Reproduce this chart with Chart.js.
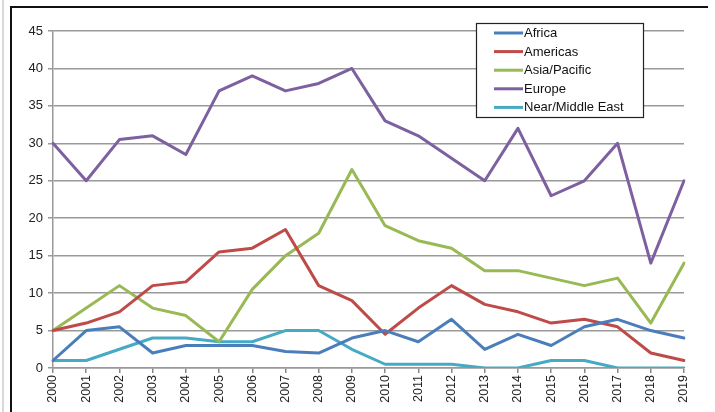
<!DOCTYPE html>
<html>
<head>
<meta charset="utf-8">
<script src="https://cdn.jsdelivr.net/npm/chart.js@4"></script>
<style>
  html, body { margin: 0; padding: 0; background: #fff; }
  #wrap { position: relative; width: 715px; height: 412px; }
  #frame { position: absolute; left: 10px; top: 6px; width: 698px; height: 420px;
           border-left: 2px solid #111; border-top: 2px solid #111; box-sizing: border-box; pointer-events: none; }
  #edge { position: absolute; left: 2px; top: 0; width: 2px; height: 412px; background: #d8d8d8; }
  canvas { position: absolute; left: 0; top: 0; }
</style>
</head>
<body>
<div id="wrap">
  <canvas id="c" width="715" height="412"></canvas>
  <div id="edge"></div>
  <div id="frame"></div>
</div>
<script>
const years = ['2000','2001','2002','2003','2004','2005','2006','2007','2008','2009','2010','2011','2012','2013','2014','2015','2016','2017','2018','2019'];
const africa = [1, 5, 5.5, 2, 3, 3, 3, 2.2, 2, 4, 5, 3.5, 6.5, 2.5, 4.5, 3, 5.5, 6.5, 5, 4];
const americas = [5, 6, 7.5, 11, 11.5, 15.5, 16, 18.5, 11, 9, 4.5, 8, 11, 8.5, 7.5, 6, 6.5, 5.5, 2, 1];
const asiaPacific = [5, 8, 11, 8, 7, 3.5, 10.5, 15, 18, 26.5, 19, 17, 16, 13, 13, 12, 11, 12, 6, 14];
const europe = [30, 25, 30.5, 31, 28.5, 37, 39, 37, 38, 40, 33, 31, 28, 25, 32, 23, 25, 30, 14, 25];
const nearMiddleEast = [1, 1, 2.5, 4, 4, 3.5, 3.5, 5, 5, 2.5, 0.5, 0.5, 0.5, 0, 0, 1, 1, 0, 0, 0];
const seriesNames = ['Africa', 'Americas', 'Asia/Pacific', 'Europe', 'Near/Middle East'];
const seriesColors = ['#4a7ebb', '#be4b48', '#98b954', '#7d60a0', '#46aac5'];
const yMin = 0, yMax = 45, yStep = 5;

const seriesData = [africa, americas, asiaPacific, europe, nearMiddleEast];
const datasets = seriesNames.map((name, i) => ({
  label: name,
  data: seriesData[i],
  borderColor: seriesColors[i],
  backgroundColor: seriesColors[i],
  borderWidth: 3,
  pointRadius: 0,
  tension: 0,
  fill: false,
  borderJoinStyle: 'round',
  borderCapStyle: 'round'
}));

const FONT = '"Liberation Sans", Arial, sans-serif';

const boxLegend = {
  id: 'boxLegend',
  afterDraw(chart) {
    const ctx = chart.ctx;
    const x0 = 476, y0 = 23, w = 167, h = 94;
    ctx.save();
    ctx.fillStyle = '#fff';
    ctx.fillRect(x0, y0, w, h);
    ctx.strokeStyle = '#222';
    ctx.lineWidth = 1.2;
    ctx.strokeRect(x0 + 0.5, y0 + 0.5, w, h);
    ctx.font = '13px ' + FONT;
    ctx.textBaseline = 'middle';
    ctx.textAlign = 'left';
    chart.data.datasets.forEach((ds, i) => {
      const y = 33 + i * 18.6;
      ctx.strokeStyle = ds.borderColor;
      ctx.lineWidth = 3;
      ctx.beginPath();
      ctx.moveTo(494, y);
      ctx.lineTo(523, y);
      ctx.stroke();
      ctx.fillStyle = '#111';
      ctx.fillText(ds.label, 524, y + 0.5);
    });
    ctx.restore();
  }
};

new Chart(document.getElementById('c'), {
  type: 'line',
  data: { labels: years, datasets },
  options: {
    responsive: false,
    animation: false,
    layout: { padding: { left: 0, right: 31, top: 31, bottom: 0 } },
    plugins: { legend: { display: false }, tooltip: { enabled: false } },
    scales: {
      x: {
        offset: false,
        grid: { display: true, drawOnChartArea: false, drawTicks: true, tickLength: 5, color: '#888', lineWidth: 1.5 },
        border: { display: true, color: '#999', width: 1.5 },
        ticks: {
          minRotation: 90, maxRotation: 90, autoSkip: false, padding: 2,
          color: '#222', font: { family: FONT, size: 12.5 }
        },
        afterFit(scale) { scale.height = 44; }
      },
      y: {
        min: yMin, max: yMax,
        grid: { color: '#999', lineWidth: 1.5, tickLength: 5 },
        border: { display: true, color: '#999', width: 1.5 },
        ticks: {
          stepSize: yStep, padding: 5,
          color: '#222', font: { family: FONT, size: 13 }
        },
        afterFit(scale) { scale.width = 53; }
      }
    }
  },
  plugins: [boxLegend]
});
</script>
</body>
</html>
